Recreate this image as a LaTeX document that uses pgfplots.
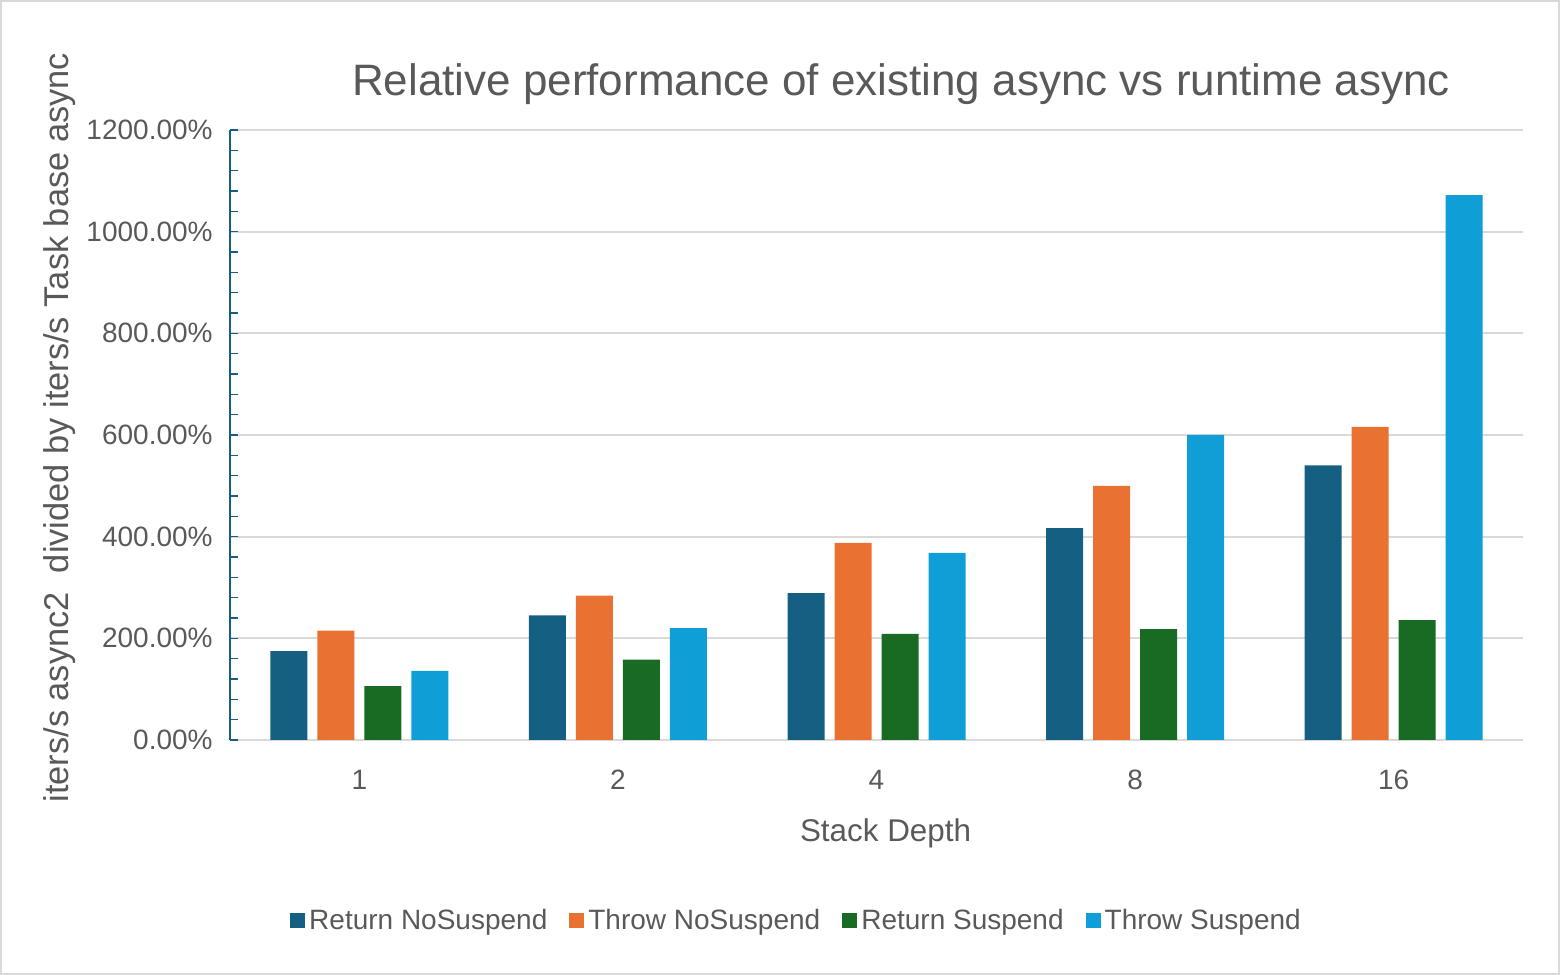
\documentclass[border=0pt]{standalone}
\usepackage{pgfplots}
\pgfplotsset{compat=1.18}
\usepackage{fontspec}
\setmainfont{Liberation Sans}
\definecolor{cRN}{HTML}{156082}
\definecolor{cTN}{HTML}{E97132}
\definecolor{cRS}{HTML}{196B24}
\definecolor{cTS}{HTML}{0F9ED5}
\definecolor{txt}{HTML}{595959}
\definecolor{gridc}{HTML}{D9D9D9}
\definecolor{frame}{HTML}{D9D9D9}
\begin{document}
\begin{tikzpicture}
\useasboundingbox (0,0) rectangle (780pt,487.5pt);
\draw[frame, line width=1pt] (0.5pt,0.5pt) rectangle (779.5pt,487pt);
\begin{axis}[
  at={(115pt,117.5pt)}, anchor=south west,
  scale only axis, width=646.5pt, height=305pt,
  ybar=5pt, bar width=18.5pt,
  xmin=-0.5, xmax=4.5, ymin=0, ymax=1200,
  xtick=data, xticklabels={1,2,4,8,16},
  ytick={0,200,...,1200}, minor y tick num=4,
  axis x line*=bottom, axis y line*=left,
  x axis line style={draw=none},
  y axis line style={draw=cRN, line width=1pt, -},
  ytick style={draw=cRN, line width=0.8pt},
  minor tick style={draw=cRN, line width=0.8pt},
  xtick style={draw=none},
  tick align=inside, major tick length=4pt, minor tick length=4pt,
  ymajorgrids, grid style={gridc, line width=1pt},
  /pgf/number format/assume math mode=true,
  /pgf/number format/1000 sep={},
  yticklabel={\pgfmathprintnumber[fixed,fixed zerofill,precision=2,1000 sep={}]{\tick}\%},
  yticklabel style={font=\fontsize{14}{16}\selectfont, text=txt, anchor=east, inner sep=0pt, xshift=-8.5pt},
  xticklabel style={font=\fontsize{14}{16}\selectfont, text=txt, anchor=base, inner sep=0pt, yshift=-25pt},
  title={Relative performance of existing async vs runtime async},
  title style={font=\fontsize{22}{26}\selectfont, text=txt, at={(rel axis cs:0.519,1.037)}, anchor=base, inner sep=0pt},
  xlabel={Stack Depth},
  xlabel style={font=\fontsize{15.7}{18}\selectfont, text=txt, at={(rel axis cs:0.507,-0.1672)}, anchor=base, inner sep=0pt},
  ylabel={iters/s async2\ \ divided by iters/s Task base async},
  ylabel style={font=\fontsize{17.2}{20}\selectfont, text=txt, at={(rel axis cs:-0.1315,0.512)}, anchor=center, inner sep=0pt},
  legend columns=4,
  legend style={at={(rel axis cs:0.4389,-0.2967)}, anchor=center, draw=none, fill=none,
    font=\fontsize{14}{16}\selectfont, text=txt,
    /tikz/every even column/.append style={column sep=9pt}},
  legend image code/.code={\fill[#1] (0pt,-3.75pt) rectangle (7.5pt,3.75pt);},
  legend cell align=left,
]
\addplot[fill=cRN, draw=none] coordinates {(0,175) (1,245) (2,289) (3,417) (4,540)};
\addplot[fill=cTN, draw=none] coordinates {(0,215) (1,284) (2,388) (3,500) (4,616)};
\addplot[fill=cRS, draw=none] coordinates {(0,106) (1,158) (2,209) (3,218) (4,236)};
\addplot[fill=cTS, draw=none] coordinates {(0,136) (1,220) (2,368) (3,600) (4,1072)};
\legend{Return NoSuspend, Throw NoSuspend, Return Suspend, Throw Suspend}
\end{axis}
\end{tikzpicture}
\end{document}
